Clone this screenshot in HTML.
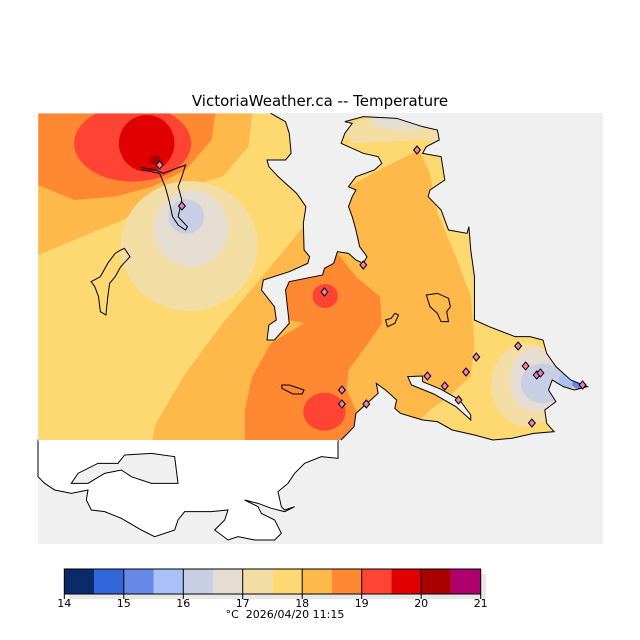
<!DOCTYPE html>
<html><head><meta charset="utf-8"><style>
html,body{margin:0;padding:0;background:#fff;}
svg{display:block;}
text{font-family:"DejaVu Sans","Liberation Sans",sans-serif;}
</style></head><body>
<svg width="640" height="640" viewBox="0 0 640 640" xmlns="http://www.w3.org/2000/svg">
<rect width="640" height="640" fill="#fff"/>
<text x="320" y="106" font-size="15" text-anchor="middle" fill="#000">VictoriaWeather.ca -- Temperature</text>
<rect x="38" y="113" width="565" height="431" fill="#f0f0f0"/>
<g transform="translate(38 440) scale(0.33333)">
<polygon fill="#fff" stroke="#000" stroke-width="3" points="0,0 900,0 900,55 850,50 800,70 770,100 750,130 720,155 730,200 740,210 770,200 740,215 700,205 660,190 620,180 660,200 670,220 710,240 730,280 710,300 650,300 600,290 570,300 530,270 560,240 570,210 520,215 440,215 420,240 410,270 350,290 310,270 250,235 200,215 160,210 145,180 150,150 100,160 50,150 20,130 0,110"/>
<polygon fill="#f0f0f0" stroke="#000" stroke-width="3" points="100,130 120,100 180,70 240,70 260,45 340,40 410,50 420,130 340,130 280,110 250,90 200,100 150,130"/>
<rect x="0" y="-2" width="900" height="4" fill="#fff"/>
</g>
<defs>
<clipPath id="land">
<polygon points="22,70 650,70 690,95 700,130 705,190 690,210 640,210 645,230 670,260 720,310 745,350 738,400 740,480 755,500 750,520 700,545 630,570 625,600 660,650 665,690 645,705 640,750 660,750 700,700 690,600 700,575 790,555 795,535 820,520 830,485 860,490 880,510 900,520 910,500 890,470 880,420 870,380 860,350 870,320 880,300 860,290 880,260 930,240 950,220 940,200 900,190 860,170 840,160 850,130 870,100 850,95 900,80 990,85 1060,110 1100,120 1105,150 1070,170 1060,190 1110,200 1120,270 1080,300 1075,320 1110,360 1130,420 1180,430 1185,410 1190,480 1200,560 1200,690 1240,710 1310,740 1350,740 1385,750 1395,790 1420,830 1460,870 1505,890 1470,900 1440,890 1410,870 1400,900 1420,935 1390,960 1395,1000 1415,1025 1360,1030 1300,1045 1250,1050 1200,1035 1140,1020 1100,995 1060,990 1000,970 985,955 990,930 960,900 935,880 940,910 900,950 880,970 875,1010 840,1050 22,1050"/>
</clipPath>
</defs>
<g transform="translate(30 90) scale(0.37037 0.33333)">
<g clip-path="url(#land)">
<rect x="0" y="0" width="1600" height="1100" fill="#fed870"/>
<polygon fill="#ffb84a" points="22,70 600,70 590,170 520,260 430,290 350,330 250,390 120,450 22,495"/>
<polygon fill="#ff8833" points="22,70 500,70 490,150 420,240 330,290 230,320 120,330 22,285"/>
<ellipse cx="277" cy="160" rx="158" ry="115" fill="#ff4433"/>
<ellipse cx="315" cy="160" rx="75" ry="85" fill="#e00000"/>
<ellipse cx="338" cy="210" rx="16" ry="14" fill="#aa0000"/>
<ellipse cx="430" cy="468" rx="185" ry="195" fill="#f2dea5"/>
<ellipse cx="435" cy="415" rx="100" ry="115" fill="#e5ddd2"/>
<ellipse cx="422" cy="380" rx="48" ry="52" fill="#c8cfe5"/>
<polygon fill="#ffb84a" points="760,380 650,530 520,700 420,850 340,1000 330,1050 1000,1050 1080,960 1130,920 1190,860 1200,760 1190,620 1150,500 1100,370 1080,250 1050,180 960,230 860,290 800,330"/>
<polygon fill="#ff8833" points="740,700 650,760 600,860 580,960 580,1050 880,1050 880,960 855,900 860,840 900,780 950,700 945,620 880,560 830,490 780,500 690,580 700,690"/>
<ellipse cx="797" cy="618" rx="34" ry="36" fill="#ff4433"/>
<ellipse cx="795" cy="965" rx="57" ry="57" fill="#ff4433"/>
<polygon fill="#f2dea5" points="840,110 930,80 1010,85 1110,120 1110,160 1060,150 960,155 870,160"/>
<ellipse cx="1010" cy="95" rx="90" ry="25" fill="#e5ddd2"/>
<ellipse cx="1340" cy="885" rx="95" ry="125" fill="#f2dea5"/>
<ellipse cx="1365" cy="870" rx="70" ry="95" fill="#e5ddd2"/>
<ellipse cx="1385" cy="880" rx="60" ry="60" fill="#c8cfe5"/>
<ellipse cx="1450" cy="870" rx="22" ry="26" fill="#aac0f8"/>
<ellipse cx="1482" cy="882" rx="18" ry="15" fill="#6688e8"/>
</g>
<polyline fill="none" stroke="#000" stroke-width="1" vector-effect="non-scaling-stroke" points="650,70 690,95 700,130 705,190 690,210 640,210 645,230 670,260 720,310 745,350 738,400 740,480 755,500 750,520 700,545 630,570 625,600 660,650 665,690 645,705 640,750 660,750 700,700 690,600 700,575 790,555 795,535 820,520 830,485 860,490 880,510 900,520 910,500 890,470 880,420 870,380 860,350 870,320 880,300 860,290 880,260 930,240 950,220 940,200 900,190 860,170 840,160 850,130 870,100 850,95 900,80 990,85 1060,110 1100,120 1105,150 1070,170 1060,190 1110,200 1120,270 1080,300 1075,320 1110,360 1130,420 1180,430 1185,410 1190,480 1200,560 1200,690 1240,710 1310,740 1350,740 1385,750 1395,790 1420,830 1460,870 1505,890 1470,900 1440,890 1410,870 1400,900 1420,935 1390,960 1395,1000 1415,1025 1360,1030 1300,1045 1250,1050 1200,1035 1140,1020 1100,995 1060,990 1000,970 985,955 990,930 960,900 935,880 940,910 900,950 880,970 875,1010 840,1050"/>
<g fill="none" stroke="#000" stroke-width="1">
<polygon vector-effect="non-scaling-stroke" points="245,480 255,475 270,500 245,530 230,560 215,580 210,620 205,675 190,665 185,620 175,590 165,575 190,560 210,520 230,490"/>
<polygon vector-effect="non-scaling-stroke" points="1070,615 1100,610 1130,625 1135,650 1125,665 1130,695 1110,695 1100,670 1080,650"/>
<polygon vector-effect="non-scaling-stroke" points="985,670 995,675 985,700 965,710 960,690 975,685"/>
<polygon vector-effect="non-scaling-stroke" points="680,885 700,885 740,900 735,912 710,912 680,895"/>
</g>
<polygon fill="#f0f0f0" stroke="#000" stroke-width="1" vector-effect="non-scaling-stroke" points="1020,860 1060,858 1060,875 1110,898 1160,930 1190,975 1190,990 1150,950 1090,912 1030,885"/>
<path d="M300,232 L340,240 360,250 420,225 410,260 400,290 410,330 400,380 425,410 420,420 400,405 385,380 375,330 365,290 350,250 300,238" fill="none" stroke="#000" stroke-width="1" vector-effect="non-scaling-stroke"/>
</g>
<g fill="#ee80b8" stroke="#000" stroke-width="1">
<polygon points="159.6,161 163,165 159.6,169 156.2,165"/>
<polygon points="181.9,202 185.3,206 181.9,210 178.5,206"/>
<polygon points="417,146 420.4,150 417,154 413.6,150"/>
<polygon points="363.3,261 366.7,265 363.3,269 359.9,265"/>
<polygon points="324.4,288 327.8,292 324.4,296 321,292"/>
<polygon points="341.9,386 345.3,390 341.9,394 338.5,390"/>
<polygon points="341.9,400 345.3,404 341.9,408 338.5,404"/>
<polygon points="366.3,400 369.7,404 366.3,408 362.9,404"/>
<polygon points="427.4,372 430.8,376 427.4,380 424,376"/>
<polygon points="444.8,382 448.2,386 444.8,390 441.4,386"/>
<polygon points="458.5,396 461.9,400 458.5,404 455.1,400"/>
<polygon points="466,368 469.4,372 466,376 462.6,372"/>
<polygon points="476.3,353 479.7,357 476.3,361 472.9,357"/>
<polygon points="518.1,342 521.5,346 518.1,350 514.7,346"/>
<polygon points="525.6,362 529,366 525.6,370 522.2,366"/>
<polygon points="536.7,371 540.1,375 536.7,379 533.3,375"/>
<polygon points="540.4,369 543.8,373 540.4,377 537,373"/>
<polygon points="531.9,419 535.3,423 531.9,427 528.5,423"/>
<polygon points="582.6,381 586,385 582.6,389 579.2,385"/>
</g>
<rect x="69" y="574" width="417" height="25" fill="#e8e8e8"/>
<g stroke="none">
<rect x="64.3" y="569" width="29.74" height="25" fill="#0c2a6a"/>
<rect x="94.04" y="569" width="29.74" height="25" fill="#3366d9"/>
<rect x="123.78" y="569" width="29.74" height="25" fill="#6688e6"/>
<rect x="153.52" y="569" width="29.74" height="25" fill="#aac0f8"/>
<rect x="183.26" y="569" width="29.74" height="25" fill="#c8cfe5"/>
<rect x="213" y="569" width="29.74" height="25" fill="#e5ddd2"/>
<rect x="242.74" y="569" width="29.74" height="25" fill="#f2dea5"/>
<rect x="272.48" y="569" width="29.74" height="25" fill="#fed870"/>
<rect x="302.22" y="569" width="29.74" height="25" fill="#ffb84a"/>
<rect x="331.96" y="569" width="29.74" height="25" fill="#ff8833"/>
<rect x="361.7" y="569" width="29.74" height="25" fill="#ff4433"/>
<rect x="391.44" y="569" width="29.74" height="25" fill="#e00000"/>
<rect x="421.18" y="569" width="29.74" height="25" fill="#aa0000"/>
<rect x="450.92" y="569" width="29.74" height="25" fill="#b00070"/>
</g>
<rect x="64.3" y="569" width="416.4" height="25" fill="none" stroke="#000" stroke-width="1"/>
<g stroke="#000" stroke-width="1">
<line x1="123.8" y1="569" x2="123.8" y2="599"/><line x1="183.3" y1="569" x2="183.3" y2="599"/>
<line x1="242.7" y1="569" x2="242.7" y2="599"/><line x1="302.2" y1="569" x2="302.2" y2="599"/>
<line x1="361.7" y1="569" x2="361.7" y2="599"/><line x1="421.2" y1="569" x2="421.2" y2="599"/>
<line x1="64.3" y1="594" x2="64.3" y2="599"/><line x1="480.7" y1="594" x2="480.7" y2="599"/>
</g>
<g font-size="11" text-anchor="middle" fill="#000">
<text x="64.3" y="607">14</text><text x="123.8" y="607">15</text><text x="183.3" y="607">16</text>
<text x="242.7" y="607">17</text><text x="302.2" y="607">18</text><text x="361.7" y="607">19</text>
<text x="421.2" y="607">20</text><text x="480.7" y="607">21</text>
<text x="285" y="618" xml:space="preserve">°C  2026/04/20 11:15</text>
</g>
</svg>
</body></html>
